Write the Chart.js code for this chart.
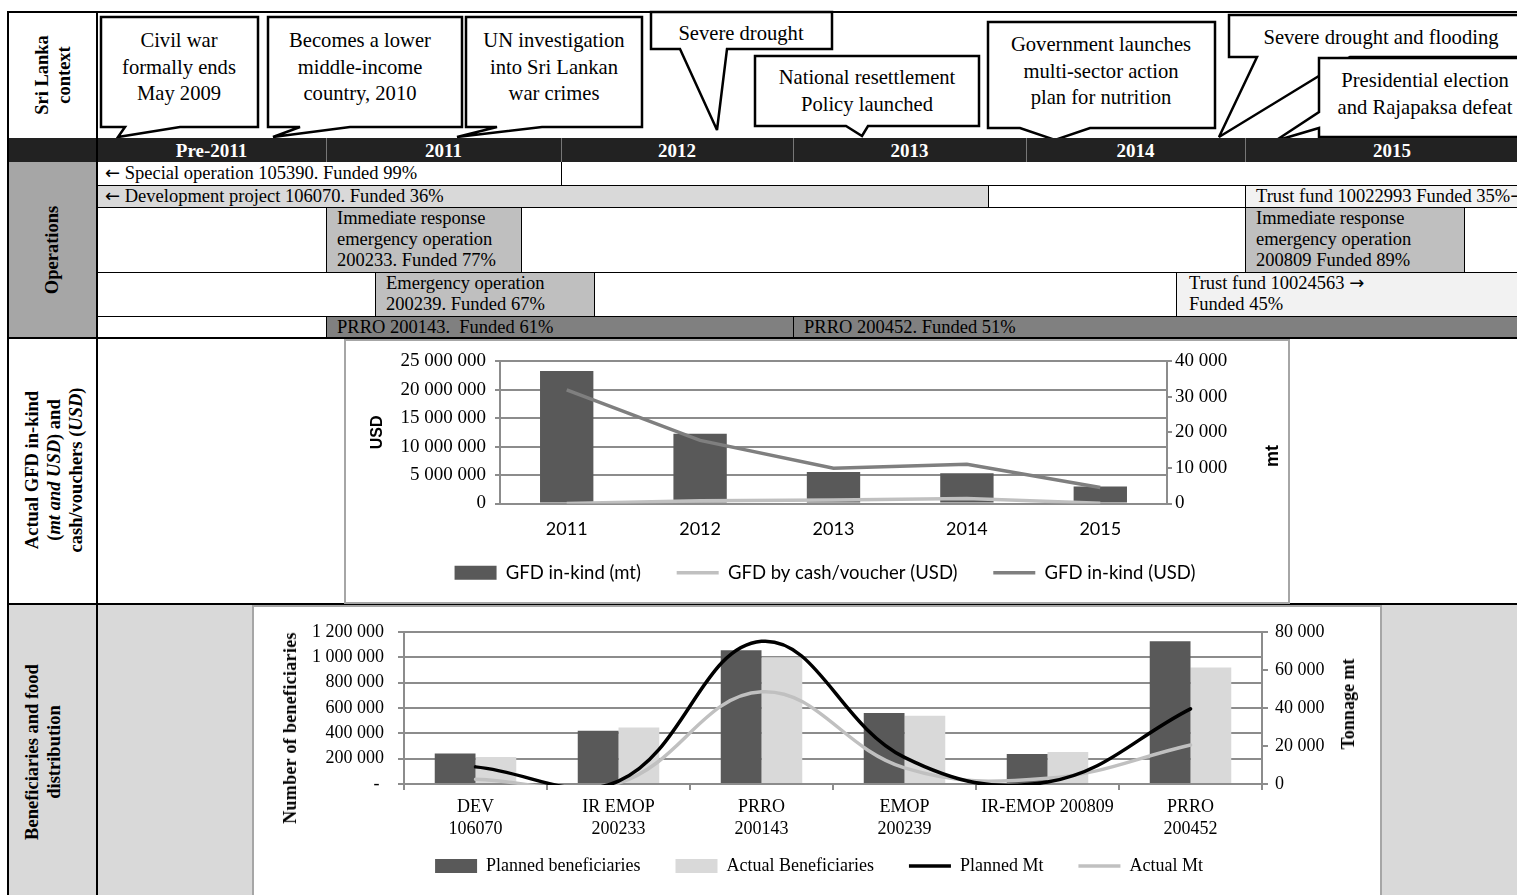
<!DOCTYPE html>
<html>
<head>
<meta charset="utf-8">
<title>Sri Lanka timeline</title>
<script src="https://cdn.jsdelivr.net/npm/chart.js@4.4.1/dist/chart.umd.min.js"></script>
<style>
html, body { margin: 0; padding: 0; background: #fff; }
#page { position: relative; width: 1517px; height: 895px; overflow: hidden;
  font-family: "Liberation Serif", "Times New Roman", serif; color: #000; }
.box { position: absolute; box-sizing: border-box; }
.cell { position: absolute; box-sizing: border-box; font-size: 18.5px; line-height: 21px;
  padding-left: 11px; white-space: nowrap; overflow: hidden; }
.arr { font-family: "DejaVu Sans", sans-serif; font-size: 18px; line-height: 10px; }
.hl { position: absolute; height: 0; border-top: 1px solid #000; }
.vl { position: absolute; width: 0; border-left: 1px solid #000; }
.yr { position: absolute; top: 138px; height: 24px; line-height: 25px; color: #fff;
  font-weight: bold; font-size: 19px; text-align: center; }
.rot { position: absolute; transform: translate(-50%, -50%) rotate(-90deg); font-weight: bold;
  font-size: 18.5px; line-height: 22px; text-align: center; white-space: nowrap; }
.note { position: absolute; font-size: 20.6px; line-height: 26.5px; text-align: center;
  white-space: nowrap; transform: translateX(-50%); }
.chartbox { position: absolute; box-sizing: border-box; background: #fff; border: 2px solid #a6a6a6; }
.chartbox canvas { display: block; }
.axt { position: absolute; transform: translate(-50%, -50%) rotate(-90deg); font-weight: bold;
  white-space: nowrap; font-size: 18px; line-height: 20px; }
</style>
</head>
<body>
<div id="page">
  <!-- section backgrounds -->
  <div class="box" style="left:8px;top:162px;width:89px;height:176px;background:#a6a6a6"></div>
  <div class="box" style="left:8px;top:604px;width:1540px;height:300px;background:#d9d9d9"></div>

  <!-- operations rows -->
  <div class="cell" style="left:97px;top:162px;width:464px;height:23px;padding-left:8px;line-height:23px"><span class="arr">←</span> Special operation 105390. Funded 99%</div>
  <div class="cell" style="left:97px;top:185px;width:891px;height:22px;padding-left:8px;line-height:22px;background:#d9d9d9"><span class="arr">←</span> Development project 106070. Funded 36%</div>
  <div class="cell" style="left:1245px;top:185px;width:300px;height:22px;line-height:22px;background:#f2f2f2">Trust fund 10022993 Funded 35%<span class="arr">→</span></div>
  <div class="cell" style="left:326px;top:207px;width:195px;height:65px;padding-top:1px;background:#bfbfbf">Immediate response<br>emergency operation<br>200233. Funded 77%</div>
  <div class="cell" style="left:1245px;top:207px;width:219px;height:65px;padding-top:1px;background:#bfbfbf">Immediate response<br>emergency operation<br>200809 Funded 89%</div>
  <div class="cell" style="left:375px;top:272px;width:219px;height:44px;padding-top:1px;background:#bfbfbf">Emergency operation<br>200239. Funded 67%</div>
  <div class="cell" style="left:1176px;top:272px;width:370px;height:44px;padding-top:1px;padding-left:13px;background:#f2f2f2">Trust fund 10024563 <span class="arr">→</span><br>Funded 45%</div>
  <div class="cell" style="left:326px;top:316px;width:467px;height:22px;line-height:22px;background:#808080">PRRO 200143.&nbsp; Funded 61%</div>
  <div class="cell" style="left:793px;top:316px;width:760px;height:22px;line-height:22px;background:#808080">PRRO 200452. Funded 51%</div>

  <!-- operations grid lines -->
  <div class="hl" style="left:97px;top:185px;width:1450px"></div>
  <div class="hl" style="left:97px;top:207px;width:1450px"></div>
  <div class="hl" style="left:97px;top:272px;width:1450px"></div>
  <div class="hl" style="left:97px;top:316px;width:1450px"></div>
  <div class="vl" style="left:561px;top:162px;height:23px"></div>
  <div class="vl" style="left:988px;top:185px;height:22px"></div>
  <div class="vl" style="left:1245px;top:185px;height:87px"></div>
  <div class="vl" style="left:326px;top:207px;height:65px"></div>
  <div class="vl" style="left:521px;top:207px;height:65px"></div>
  <div class="vl" style="left:1464px;top:207px;height:65px"></div>
  <div class="vl" style="left:375px;top:272px;height:44px"></div>
  <div class="vl" style="left:594px;top:272px;height:44px"></div>
  <div class="vl" style="left:1176px;top:272px;height:44px"></div>
  <div class="vl" style="left:326px;top:316px;height:22px"></div>
  <div class="vl" style="left:793px;top:316px;height:22px"></div>

  <!-- event callouts -->
  <svg class="box" style="left:0;top:0" width="1517" height="170" viewBox="0 0 1517 170">
    <g fill="#fff" stroke="#000" stroke-width="2.5" stroke-linejoin="miter" stroke-miterlimit="3">
      <path d="M101,17 H258 V127 H180 L118,137 L125,127 H101 Z"/>
      <path d="M268,17 H462 V127 H350 L273,137 L300,127 H268 Z"/>
      <path d="M466,17 H642 V127 H542 L457,137 L497,127 H466 Z"/>
      <path d="M651,12 H832 V49 H727 L717,130 L680,49 H651 Z"/>
      <path d="M755,56 H979 V126 H868 L862,136 L846,126 H755 Z"/>
      <path d="M988,22 H1215 V128 H1090 L1055,140 L1020,128 H988 Z"/>
      <path d="M1229,15 H1545 V57 H1350 L1219,137 L1257,57 H1229 Z"/>
      <path d="M1319,58 H1545 V137 H1319 V128 L1275,141 L1319,112 Z"/>
    </g>
  </svg>
  <div class="note" style="left:179px;top:27px">Civil war<br>formally ends<br>May 2009</div>
  <div class="note" style="left:360px;top:27px">Becomes a lower<br>middle-income<br>country, 2010</div>
  <div class="note" style="left:554px;top:27px">UN investigation<br>into Sri Lankan<br>war crimes</div>
  <div class="note" style="left:741px;top:20px">Severe drought</div>
  <div class="note" style="left:867px;top:64px">National resettlement<br>Policy launched</div>
  <div class="note" style="left:1101px;top:31px">Government launches<br>multi-sector action<br>plan for nutrition</div>
  <div class="note" style="left:1381px;top:24px">Severe drought and flooding</div>
  <div class="note" style="left:1425px;top:67px">Presidential election<br>and Rajapaksa defeat</div>

  <!-- year header -->
  <div class="box" style="left:8px;top:138px;width:1540px;height:24px;background:#222"></div>
  <div class="vl" style="left:97px;top:138px;height:24px;border-color:#777"></div>
  <div class="vl" style="left:326px;top:138px;height:24px;border-color:#777"></div>
  <div class="vl" style="left:561px;top:138px;height:24px;border-color:#777"></div>
  <div class="vl" style="left:793px;top:138px;height:24px;border-color:#777"></div>
  <div class="vl" style="left:1026px;top:138px;height:24px;border-color:#777"></div>
  <div class="vl" style="left:1245px;top:138px;height:24px;border-color:#777"></div>
  <div class="yr" style="left:97px;width:229px">Pre-2011</div>
  <div class="yr" style="left:326px;width:235px">2011</div>
  <div class="yr" style="left:561px;width:232px">2012</div>
  <div class="yr" style="left:793px;width:233px">2013</div>
  <div class="yr" style="left:1026px;width:219px">2014</div>
  <div class="yr" style="left:1245px;width:294px">2015</div>

  <!-- row labels -->
  <div class="rot" style="left:53px;top:75px">Sri Lanka<br>context</div>
  <div class="rot" style="left:52px;top:250px">Operations</div>
  <div class="rot" style="left:54px;top:470px">Actual GFD in-kind<br>(<i>mt and USD</i>) and<br>cash/vouchers (<i>USD</i>)</div>
  <div class="rot" style="left:43px;top:752px">Beneficiaries and food<br>distribution</div>

  <!-- table frame -->
  <div class="hl" style="left:8px;top:11px;width:1540px;border-top-width:2px"></div>
  <div class="hl" style="left:8px;top:337px;width:1540px;border-top-width:2px"></div>
  <div class="hl" style="left:8px;top:603px;width:1540px;border-top-width:2px"></div>
  <div class="vl" style="left:7px;top:11px;height:890px;border-left-width:2px"></div>
  <div class="vl" style="left:96px;top:11px;height:890px;border-left-width:2px"></div>

  <!-- charts -->
  <div class="chartbox" style="left:344px;top:339px;width:946px;height:265px">
    <canvas id="gfdChart" width="942" height="261"></canvas>
  </div>
  <div class="chartbox" style="left:252px;top:605px;width:1130px;height:300px">
    <canvas id="benChart" width="1126" height="290"></canvas>
  </div>
  <div class="axt" style="left:1272px;top:456px;font-family:'Liberation Sans',sans-serif">mt</div>
  <div class="axt" style="left:290px;top:728px;letter-spacing:0.3px">Number of beneficiaries</div>
  <div class="axt" style="left:1348px;top:704px">Tonnage mt</div>
</div>

<script>
// General food distribution by year
const gfdYears = ['2011', '2012', '2013', '2014', '2015'];
const gfdInKindMt = [37300, 19600, 8900, 8500, 4800];
const gfdCashVoucherUsd = [0, 500000, 600000, 900000, 50000];
const gfdInKindUsd = [20000000, 11100000, 6200000, 6900000, 2800000];

// Beneficiaries and tonnage by operation
const operationLabels = [['DEV', '106070'], ['IR EMOP', '200233'], ['PRRO', '200143'],
  ['EMOP', '200239'], 'IR-EMOP 200809', ['PRRO', '200452']];
const plannedBeneficiaries = [240000, 420000, 1055000, 560000, 237000, 1125000];
const actualBeneficiaries = [212000, 445000, 1000000, 538000, 252000, 918000];
const plannedMt = [9000, 1500, 75000, 14000, 1000, 39500];
const actualMt = [2500, 500, 48500, 8500, 3000, 20500];

const spaced = v => String(Math.round(v)).replace(/\B(?=(\d{3})+(?!\d))/g, ' ');
const gridGrey = '#8c8c8c';
const byIndex = (a, b) => a.datasetIndex - b.datasetIndex;

// legend entries in dataset order, with a wider gap after each entry but the last
function legendItems(chart) {
  const items = Chart.defaults.plugins.legend.labels.generateLabels(chart).sort(byIndex);
  items.forEach((it, i) => { if (i < items.length - 1) it.text += '\u2002\u2002\u2002'; });
  return items;
}

new Chart(document.getElementById('gfdChart'), {
  data: {
    labels: gfdYears,
    datasets: [
      { type: 'bar', label: 'GFD in-kind (mt)', data: gfdInKindMt, yAxisID: 'mt',
        backgroundColor: '#595959', borderWidth: 0, categoryPercentage: 0.4, barPercentage: 1,
        pointStyle: 'rect', order: 2 },
      { type: 'line', label: 'GFD by cash/voucher (USD)', data: gfdCashVoucherUsd, yAxisID: 'usd',
        borderColor: '#c0c0c0', backgroundColor: '#c0c0c0', borderWidth: 3.5, pointRadius: 0,
        tension: 0, pointStyle: 'line', order: 1 },
      { type: 'line', label: 'GFD in-kind (USD)', data: gfdInKindUsd, yAxisID: 'usd',
        borderColor: '#7f7f7f', backgroundColor: '#7f7f7f', borderWidth: 3.5, pointRadius: 0,
        tension: 0, pointStyle: 'line', order: 0 }
    ]
  },
  options: {
    responsive: false, animation: false,
    layout: { padding: { top: 20, left: 18, right: 2, bottom: 10 } },
    plugins: {
      tooltip: { enabled: false },
      legend: { position: 'bottom',
        labels: { usePointStyle: true, pointStyleWidth: 42, boxHeight: 14, padding: 8,
          color: '#000', font: { family: 'Lato', size: 18.5 }, generateLabels: legendItems } }
    },
    scales: {
      x: { grid: { display: false, drawTicks: false }, border: { display: true, color: gridGrey, width: 2 },
        ticks: { color: '#000', padding: 15, font: { family: 'Lato', size: 18 } },
        afterFit(s) { s.height = 52; } },
      usd: { position: 'left', min: 0, max: 25000000,
        ticks: { stepSize: 5000000, callback: v => spaced(v), color: '#000', padding: 9,
          font: { family: 'Liberation Serif', size: 19 } },
        grid: { color: gridGrey, lineWidth: 2, tickLength: 5 },
        border: { color: gridGrey, width: 2 },
        title: { display: true, text: 'USD', color: '#000',
          font: { family: 'Liberation Sans', weight: 'bold', size: 16 } },
        afterFit(s) { s.width = 136; } },
      mt: { position: 'right', min: 0, max: 40000,
        ticks: { stepSize: 10000, callback: v => spaced(v), color: '#000', padding: 3,
          font: { family: 'Liberation Serif', size: 19 } },
        grid: { drawOnChartArea: false, color: gridGrey, lineWidth: 2, tickLength: 5 },
        border: { color: gridGrey, width: 2 },
        afterFit(s) { s.width = 119; } }
    }
  }
});

const serif = { family: 'Liberation Serif', size: 18 };
new Chart(document.getElementById('benChart'), {
  data: {
    labels: operationLabels,
    datasets: [
      { type: 'bar', label: 'Planned beneficiaries', data: plannedBeneficiaries, yAxisID: 'ben',
        backgroundColor: '#595959', borderWidth: 0, categoryPercentage: 0.57, barPercentage: 1,
        pointStyle: 'rect', order: 2 },
      { type: 'bar', label: 'Actual Beneficiaries', data: actualBeneficiaries, yAxisID: 'ben',
        backgroundColor: '#d9d9d9', borderWidth: 0, categoryPercentage: 0.57, barPercentage: 1,
        pointStyle: 'rect', order: 2 },
      { type: 'line', label: 'Planned Mt', data: plannedMt, yAxisID: 'ton',
        borderColor: '#000', backgroundColor: '#000', borderWidth: 3.5, pointRadius: 0,
        tension: 0.4, capBezierPoints: false, borderCapStyle: 'round', clip: 1,
        pointStyle: 'line', order: 0 },
      { type: 'line', label: 'Actual Mt', data: actualMt, yAxisID: 'ton',
        borderColor: '#c0c0c0', backgroundColor: '#c0c0c0', borderWidth: 3.5, pointRadius: 0,
        tension: 0.4, capBezierPoints: false, borderCapStyle: 'round', clip: 1,
        pointStyle: 'line', order: 1 }
    ]
  },
  options: {
    responsive: false, animation: false,
    layout: { padding: { top: 20, left: 21, right: 17, bottom: 12 } },
    plugins: {
      tooltip: { enabled: false },
      legend: { position: 'bottom',
        labels: { usePointStyle: true, pointStyleWidth: 42, boxHeight: 14, padding: 8,
          color: '#000', font: serif, generateLabels: legendItems } }
    },
    scales: {
      x: { grid: { offset: true, drawOnChartArea: false, drawTicks: true, tickLength: 6,
          color: gridGrey, lineWidth: 2 },
        border: { color: gridGrey, width: 2 },
        ticks: { color: '#000', padding: 6, font: { family: 'Liberation Serif', size: 18, lineHeight: 1.22 } },
        afterFit(s) { s.height = 65; } },
      ben: { position: 'left', min: 0, max: 1200000,
        ticks: { stepSize: 200000, callback: v => (v === 0 ? '- ' : spaced(v)), color: '#000',
          padding: 14, font: serif },
        grid: { color: gridGrey, lineWidth: 2, tickLength: 6 },
        border: { color: gridGrey, width: 2 },
        afterFit(s) { s.width = 129; } },
      ton: { position: 'right', min: 0, max: 80000,
        ticks: { stepSize: 20000, callback: v => spaced(v), color: '#000', padding: 7, font: serif },
        grid: { drawOnChartArea: false, color: gridGrey, lineWidth: 2, tickLength: 6 },
        border: { color: gridGrey, width: 2 },
        afterFit(s) { s.width = 101; } }
    }
  }
});
</script>
</body>
</html>
